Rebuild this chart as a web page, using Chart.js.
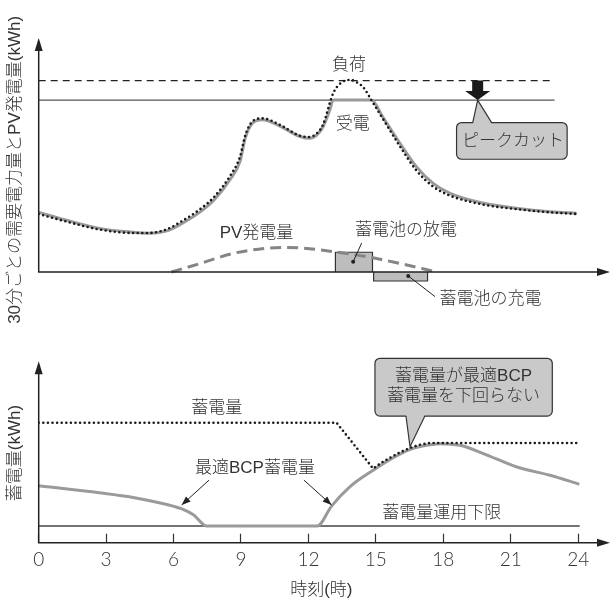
<!DOCTYPE html>
<html lang="ja">
<head>
<meta charset="utf-8">
<title>ピークカットと蓄電量</title>
<script src="https://cdn.jsdelivr.net/npm/chart.js@4.4.1/dist/chart.umd.min.js"></script>
<style>
  html, body { margin: 0; padding: 0; background: #fff; }
  #wrap { position: relative; width: 610px; height: 604px; }
  #wrap canvas { position: absolute; left: 0; top: 0; }
</style>
</head>
<body>
<div id="wrap">
  <canvas id="bottomChart" width="610" height="604"></canvas>
  <canvas id="topChart" width="610" height="604"></canvas>
</div>
<script>
// 時刻の目盛(時)
const hourTicks = [0, 3, 6, 9, 12, 15, 18, 21, 24];

// 上段: 30分ごとの需要電力量とPV発電量 (相対値)
const loadHours = [0, 1.2, 2.7, 4.2, 4.9, 5.7, 6.3, 7.2, 7.8, 8.5, 8.95, 9.2, 9.5, 9.95, 10.75, 11.6, 12.05, 12.4, 12.65, 13.1, 13.45, 13.85, 14.2, 14.45, 14.8, 15.3, 16.05, 16.8, 17.55, 18.3, 19.8, 21.25, 22.75, 23.93];
const loadValues = [25.0, 21.8, 18.3, 16.8, 16.8, 18.4, 21.5, 27.2, 32.3, 41.2, 49.5, 59.2, 64.8, 66.2, 63.3, 58.8, 58.2, 60.0, 63.5, 77, 81.5, 82.8, 81.5, 79.5, 74.1, 66.2, 54.5, 43.8, 36.8, 32.9, 29.0, 27.1, 25.7, 25.0];
const receiveHours = [0, 1.2, 2.7, 4.2, 4.9, 5.7, 6.3, 7.2, 7.8, 8.5, 8.95, 9.2, 9.5, 9.95, 10.75, 11.6, 12.05, 12.4, 12.65, 12.95, 13.1, 14.8, 15.3, 16.05, 16.8, 17.55, 18.3, 19.8, 21.25, 22.75, 23.93];
const receiveValues = [25.7, 22.4, 18.8, 17.1, 16.7, 17.7, 20.5, 26, 31, 39.7, 47.5, 58, 64, 65.6, 62.8, 58.5, 57.6, 59.3, 62.6, 69.8, 74.1, 74.1, 66.9, 55.8, 45.4, 38.2, 33.9, 29.6, 27.5, 26, 25.3];
const pvHours = [5.9, 7.2, 8.65, 10.1, 11.0, 11.6, 13.1, 14.6, 16.05, 17.7];
const pvValues = [0, 3.7, 8.0, 10.2, 10.6, 10.4, 8.8, 6.6, 3.7, 0];
const levelHours = [0, 22.95];
const peakLevel = 82.5;      // 負荷ピーク
const contractLevel = 74.1;  // 受電の上限
const dischargeHours = [13.2, 14.85];
const dischargeValue = 8.5;
const chargeHours = [14.9, 17.3];
const chargeValue = -3.9;

// 下段: 蓄電量 (相対値)
const bcpHours = [0, 2.7, 4.2, 5.7, 6.4, 6.9, 7.47, 12.39, 13.03, 13.84, 14.88, 15.62, 16.51, 17.25, 17.85, 18.74, 19.78, 21.27, 22.75, 24.05];
const bcpValues = [31.7, 27.8, 25.2, 21.3, 18.7, 15.4, 9.3, 9.3, 20.4, 31.1, 40.4, 46.3, 51.9, 54.3, 55.2, 54.3, 49.7, 42.2, 37.6, 32.6];
const storedHours = [0, 13.25, 14.88, 15.25, 15.62, 16.05, 16.51, 16.95, 17.4, 24.05];
const storedValues = [66.9, 66.9, 41.3, 44.6, 47.3, 50.2, 52.8, 54.6, 55.6, 55.6];
const lowerHours = [0, 24.07];
const lowerLimit = 9.3;

const FONT = '"Liberation Sans", "Noto Sans CJK JP", sans-serif';
Chart.defaults.font.family = FONT;
Chart.defaults.font.size = 17;
Chart.defaults.font.weight = 300;
Chart.defaults.color = '#333';

function pts(hours, values) {
  return hours.map((h, i) => ({x: h, y: values[i]}));
}
function flat(hours, v) {
  return hours.map(h => ({x: h, y: v}));
}
function box(hours, v) {
  return [{x: hours[0], y: 0}, {x: hours[0], y: v}, {x: hours[1], y: v}, {x: hours[1], y: 0}];
}

const axisArrows = {
  id: 'axisArrows',
  afterDatasetsDraw(chart) {
    const {ctx, chartArea, scales: {x, y}} = chart;
    const x0 = x.getPixelForValue(0), y0 = y.getPixelForValue(0);
    ctx.save();
    ctx.strokeStyle = '#222';
    ctx.fillStyle = '#222';
    ctx.lineWidth = 1.5;
    ctx.beginPath();
    ctx.moveTo(x0, y0); ctx.lineTo(x0, chartArea.top + 6);
    ctx.moveTo(x0 - 0.75, y0); ctx.lineTo(chartArea.right - 4, y0);
    ctx.stroke();
    ctx.beginPath();
    ctx.moveTo(x0, chartArea.top - 2);
    ctx.lineTo(x0 - 4, chartArea.top + 11);
    ctx.lineTo(x0 + 4, chartArea.top + 11);
    ctx.closePath(); ctx.fill();
    ctx.beginPath();
    ctx.moveTo(chartArea.right + 6, y0);
    ctx.lineTo(chartArea.right - 7, y0 - 4);
    ctx.lineTo(chartArea.right - 7, y0 + 4);
    ctx.closePath(); ctx.fill();
    ctx.restore();
  }
};

function drawNotes(chart, notes) {
  const {ctx, scales: {x, y}} = chart;
  const P = (t, v) => [x.getPixelForValue(t), y.getPixelForValue(v)];
  ctx.save();
  ctx.font = '300 17px ' + FONT;
  ctx.textAlign = 'center';
  ctx.textBaseline = 'middle';
  ctx.lineWidth = 1;
  notes.forEach(n => {
    if (n.kind === 'text') {
      const [px, py] = P(n.t, n.v);
      ctx.fillStyle = '#333';
      ctx.fillText(n.text, px, py);
    } else if (n.kind === 'leader') {
      const [ax, ay] = P(n.from[0], n.from[1]);
      const [bx, by] = P(n.to[0], n.to[1]);
      ctx.strokeStyle = '#222';
      ctx.fillStyle = '#222';
      ctx.beginPath(); ctx.moveTo(ax, ay); ctx.lineTo(bx, by); ctx.stroke();
      if (n.end === 'dot') {
        ctx.beginPath(); ctx.arc(bx, by, 2, 0, Math.PI * 2); ctx.fill();
      } else {
        const ang = Math.atan2(by - ay, bx - ax);
        ctx.beginPath();
        ctx.moveTo(bx, by);
        ctx.lineTo(bx - 9 * Math.cos(ang) + 3.5 * Math.sin(ang), by - 9 * Math.sin(ang) - 3.5 * Math.cos(ang));
        ctx.lineTo(bx - 9 * Math.cos(ang) - 3.5 * Math.sin(ang), by - 9 * Math.sin(ang) + 3.5 * Math.cos(ang));
        ctx.closePath(); ctx.fill();
      }
    } else if (n.kind === 'block') {
      const [ax, top] = P(n.t, n.vTop);
      const tip = y.getPixelForValue(n.vTip);
      const head = tip - 9;
      ctx.fillStyle = '#1a1a1a';
      ctx.beginPath();
      ctx.moveTo(ax - 5.5, top); ctx.lineTo(ax + 5.5, top);
      ctx.lineTo(ax + 5.5, head); ctx.lineTo(ax + 12.5, head);
      ctx.lineTo(ax, tip); ctx.lineTo(ax - 12.5, head);
      ctx.lineTo(ax - 5.5, head);
      ctx.closePath(); ctx.fill();
    } else if (n.kind === 'callout') {
      const [x0, y0] = P(n.box[0], n.box[1]);
      const [x1, y1] = P(n.box[2], n.box[3]);
      const [tx, ty] = P(n.tip[0], n.tip[1]);
      const b0 = x.getPixelForValue(n.base[0]);
      const b1 = x.getPixelForValue(n.base[1]);
      const edge = ty < y0 ? y0 : y1;
      const inward = ty < y0 ? 1.5 : -1.5;
      ctx.fillStyle = '#c9c9c9';
      ctx.strokeStyle = '#333';
      ctx.lineWidth = 1.2;
      ctx.beginPath(); ctx.roundRect(x0, y0, x1 - x0, y1 - y0, 5); ctx.fill(); ctx.stroke();
      ctx.beginPath();
      ctx.moveTo(b0, edge + inward); ctx.lineTo(tx, ty); ctx.lineTo(b1, edge + inward);
      ctx.closePath(); ctx.fill();
      ctx.beginPath(); ctx.moveTo(b0, edge); ctx.lineTo(tx, ty); ctx.lineTo(b1, edge); ctx.stroke();
      ctx.fillStyle = '#333';
      n.lines.forEach((line, i) => {
        const [px, py] = P(n.textAt[0], n.textAt[1] - i * n.lineStep);
        ctx.fillText(line, px, py);
      });
    }
  });
  ctx.restore();
}

const topNotes = [
  {kind: 'text', t: 13.8, v: 88.9, text: '負荷'},
  {kind: 'text', t: 13.97, v: 63.8, text: '受電'},
  {kind: 'text', t: 9.69, v: 16.8, text: 'PV発電量'},
  {kind: 'text', t: 16.34, v: 18.1, text: '蓄電池の放電'},
  {kind: 'leader', from: [14.37, 12.5], to: [13.99, 4.4], end: 'dot'},
  {kind: 'text', t: 20.1, v: -11.8, text: '蓄電池の充電'},
  {kind: 'leader', from: [17.63, -10.6], to: [16.44, -1.7], end: 'dot'},
  {kind: 'block', t: 19.53, vTop: peakLevel, vTip: contractLevel},
  {kind: 'callout', box: [18.59, 64.4, 23.51, 48.6], tip: [19.53, contractLevel], base: [19.31, 20.15],
   lines: ['ピークカット'], textAt: [21.1, 56.3], lineStep: 0}
];

const bottomNotes = [
  {kind: 'text', t: 7.92, v: 74.9, text: '蓄電量'},
  {kind: 'text', t: 9.62, v: 41.5, text: '最適BCP蓄電量'},
  {kind: 'leader', from: [7.58, 34.9], to: [6.36, 21.0], end: 'arrow'},
  {kind: 'leader', from: [11.8, 34.9], to: [13.03, 21.0], end: 'arrow'},
  {kind: 'text', t: 17.93, v: 16.4, text: '蓄電量運用下限'},
  {kind: 'callout', box: [14.96, 102.8, 22.85, 70.6], tip: [16.52, 53.5], base: [16.34, 17.18],
   lines: ['蓄電量が最適BCP', '蓄電量を下回らない'], textAt: [18.9, 92.5], lineStep: 11.1}
];

const X_MAX = 25.15;

function yAxis(min, max, title) {
  return {
    type: 'linear', min: min, max: max,
    ticks: {display: false},
    grid: {display: false, drawTicks: false},
    border: {display: false},
    title: {display: true, text: title, font: {size: 17}, color: '#333', padding: {top: 4.8, bottom: 0}},
    afterFit(scale) { scale.width = 38.7; }
  };
}

const line = (data, color, width, dash, order, extra) => Object.assign({
  data: data, borderColor: color, borderWidth: width, borderDash: dash || [],
  pointRadius: 0, fill: false, tension: 0, order: order
}, extra || {});

new Chart(document.getElementById('topChart'), {
  type: 'line',
  data: {
    datasets: [
      line(pts(loadHours, loadValues), '#1a1a1a', 2.6, [0, 4.6], 0,
        {cubicInterpolationMode: 'monotone', borderCapStyle: 'round'}),
      line(pts(receiveHours, receiveValues), '#9a9a9a', 3, [], 1,
        {cubicInterpolationMode: 'monotone'}),
      line(pts(pvHours, pvValues), '#858585', 3, [11, 6], 2,
        {cubicInterpolationMode: 'monotone'}),
      line(flat(levelHours, peakLevel), '#222', 1.3, [7, 5], 3),
      line(flat(levelHours, contractLevel), '#555', 1.3, [], 3),
      line(box(dischargeHours, dischargeValue), '#333', 1.2, [], 4,
        {fill: 'origin', backgroundColor: '#bdbdbd'}),
      line(box(chargeHours, chargeValue), '#333', 1.2, [], 4,
        {fill: 'origin', backgroundColor: '#bdbdbd'})
    ]
  },
  options: {
    responsive: false,
    animation: false,
    layout: {padding: {top: 40, left: 0, right: 6, bottom: 304.2}},
    plugins: {legend: {display: false}, tooltip: {enabled: false}},
    scales: {
      x: {type: 'linear', min: 0, max: X_MAX, display: false},
      y: yAxis(-12, 100, '30分ごとの需要電力量とPV発電量(kWh)')
    }
  },
  plugins: [axisArrows, {id: 'topNotes', afterDraw(chart) { drawNotes(chart, topNotes); }}]
});

new Chart(document.getElementById('bottomChart'), {
  type: 'line',
  data: {
    datasets: [
      line(pts(storedHours, storedValues), '#1a1a1a', 2.6, [0, 4.6], 0, {borderCapStyle: 'round'}),
      line(pts(bcpHours, bcpValues), '#9a9a9a', 3, [], 1, {cubicInterpolationMode: 'monotone'}),
      line(flat(lowerHours, lowerLimit), '#444', 1.3, [], 2)
    ]
  },
  options: {
    responsive: false,
    animation: false,
    layout: {padding: {top: 363.3, left: 0, right: 6, bottom: 0}},
    plugins: {legend: {display: false}, tooltip: {enabled: false}},
    scales: {
      x: {
        type: 'linear', min: 0, max: X_MAX,
        afterBuildTicks(scale) { scale.ticks = hourTicks.map(v => ({value: v})); },
        ticks: {font: {family: 'Lato, "Liberation Sans", sans-serif', size: 19, weight: 300}, color: '#333', padding: 15, maxRotation: 0, autoSkip: false},
        grid: {display: true, drawOnChartArea: false, drawTicks: true, tickLength: -9, tickColor: '#333', tickWidth: 1.2},
        border: {display: false},
        title: {display: true, text: '時刻(時)', font: {size: 17}, color: '#333', padding: {top: 0, bottom: 3.8}},
        afterFit(scale) { scale.height = 61.3; }
      },
      y: yAxis(0, 100, '蓄電量(kWh)')
    }
  },
  plugins: [axisArrows, {id: 'bottomNotes', afterDraw(chart) { drawNotes(chart, bottomNotes); }}]
});
</script>
</body>
</html>
